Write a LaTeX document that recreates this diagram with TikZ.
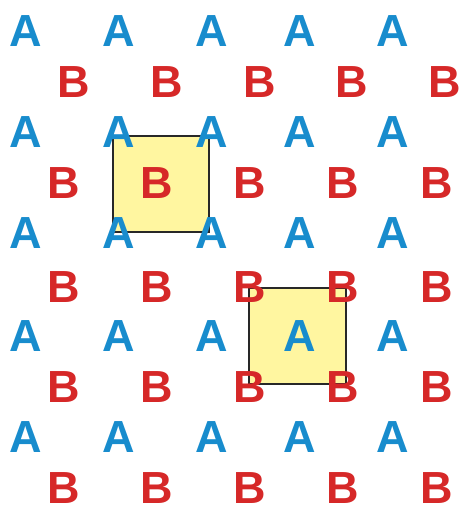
\documentclass[tikz,border=0pt]{standalone}
\usepackage{fontspec}
\setmainfont{Liberation Sans}
\usepackage{xcolor}
\definecolor{atomblue}{RGB}{24,140,205}
\definecolor{atomred}{RGB}{214,40,40}
\definecolor{cellyellow}{RGB}{255,246,160}
\definecolor{cellline}{RGB}{40,40,40}

\begin{document}
\begin{tikzpicture}[x=1pt,y=-1pt,line cap=round,
  letA/.style={inner sep=0pt,text=atomblue,font=\fontsize{45}{45}\selectfont\bfseries},
  letB/.style={inner sep=0pt,text=atomred,font=\fontsize{45}{45}\selectfont\bfseries},
  cell/.style={draw=cellline,fill=cellyellow,line width=2pt,line join=miter}]
  \useasboundingbox (0,0) rectangle (462,506);
  % the two unit cells, drawn under the letters
  \draw[cell] (113,136) rectangle (209,232);
  \draw[cell] (249,288) rectangle (346,384);
  % rows of A
  \foreach \y [count=\r] in {31,132,233,336,437}{
    \foreach \x [count=\c] in {26,119,212,300,393}{
      \node[letA] (a\r\c) at (\x,\y) {A};
    }
  }
  % rows of B: the first row sits a little further right
  \foreach \x [count=\c] in {74,167,260,352,445}{
    \node[letB] (b1\c) at (\x,82) {B};
  }
  \foreach \y [count=\r from 2] in {183,287,387,488}{
    \foreach \x [count=\c] in {64,157,250,343,437}{
      \node[letB] (b\r\c) at (\x,\y) {B};
    }
  }
\end{tikzpicture}
\end{document}
